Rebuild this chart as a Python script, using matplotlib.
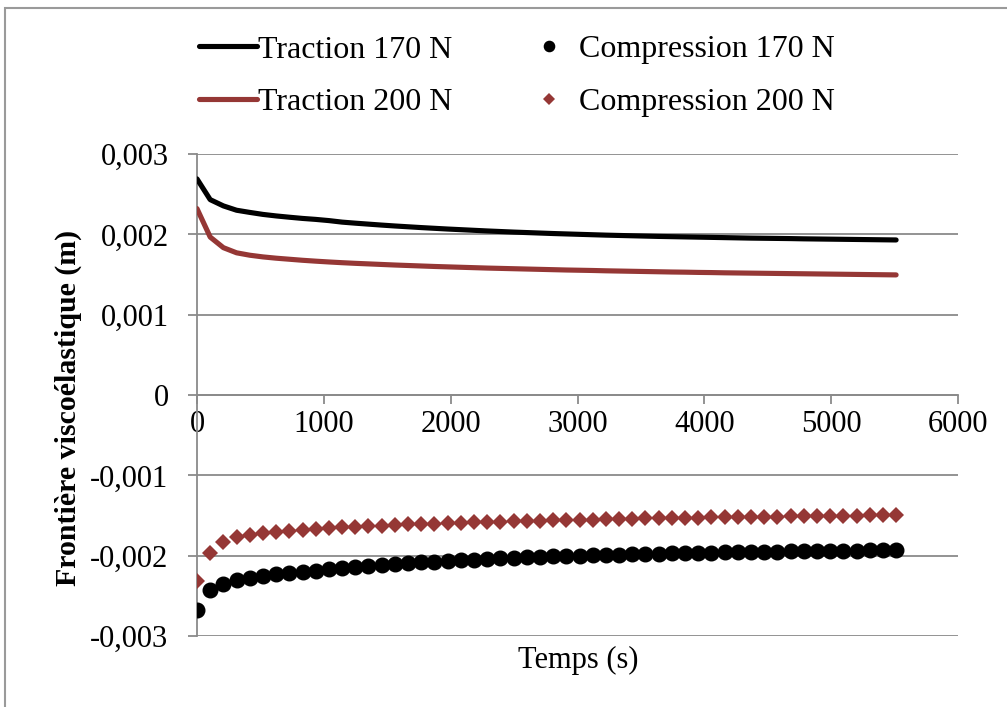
import numpy as np
import matplotlib
matplotlib.use('Agg')
import matplotlib.pyplot as plt
from matplotlib.ticker import FuncFormatter, MultipleLocator
from matplotlib.patches import Rectangle

plt.rcParams['font.family'] = ['Liberation Serif', 'DejaVu Serif']

# Data (time in s, boundary in m)
temps = [0, 104, 208, 312, 416, 520, 624, 728, 832, 936,
         1040, 1144, 1248, 1352, 1456, 1560, 1664, 1768, 1872, 1976,
         2080, 2184, 2288, 2392, 2496, 2600, 2704, 2808, 2912, 3016,
         3120, 3224, 3328, 3432, 3536, 3640, 3744, 3848, 3952, 4056,
         4160, 4264, 4368, 4472, 4576, 4680, 4784, 4888, 4992, 5096,
         5200, 5304, 5408, 5512]

traction_170 = [0.002690, 0.002432, 0.002354, 0.002300, 0.002273, 0.002248, 0.002229, 0.002213, 0.002198, 0.002186,
                0.002171, 0.002152, 0.002139, 0.002127, 0.002115, 0.002104, 0.002094, 0.002084, 0.002075, 0.002066,
                0.002058, 0.002050, 0.002042, 0.002035, 0.002028, 0.002022, 0.002016, 0.002010, 0.002005, 0.002000,
                0.001995, 0.001990, 0.001986, 0.001982, 0.001978, 0.001974, 0.001971, 0.001968, 0.001965, 0.001962,
                0.001959, 0.001956, 0.001953, 0.001951, 0.001949, 0.001947, 0.001944, 0.001942, 0.001940, 0.001938,
                0.001936, 0.001934, 0.001932, 0.001930]

traction_200 = [0.002320, 0.001966, 0.001834, 0.001770, 0.001740, 0.001719, 0.001703, 0.001690, 0.001677, 0.001666,
                0.001656, 0.001647, 0.001639, 0.001632, 0.001625, 0.001618, 0.001612, 0.001606, 0.001600, 0.001595,
                0.001590, 0.001585, 0.001580, 0.001576, 0.001572, 0.001568, 0.001564, 0.001560, 0.001556, 0.001553,
                0.001550, 0.001546, 0.001543, 0.001540, 0.001537, 0.001534, 0.001531, 0.001529, 0.001526, 0.001524,
                0.001521, 0.001519, 0.001517, 0.001515, 0.001513, 0.001511, 0.001509, 0.001507, 0.001505, 0.001503,
                0.001501, 0.001499, 0.001497, 0.001495]

compression_170 = [-0.002681, -0.002432, -0.002354, -0.002300, -0.002273, -0.002248, -0.002229, -0.002213, -0.002198, -0.002186,
                   -0.002171, -0.002152, -0.002139, -0.002127, -0.002115, -0.002104, -0.002094, -0.002084, -0.002075, -0.002066,
                   -0.002058, -0.002050, -0.002042, -0.002035, -0.002028, -0.002022, -0.002016, -0.002010, -0.002005, -0.002000,
                   -0.001995, -0.001990, -0.001986, -0.001982, -0.001978, -0.001974, -0.001971, -0.001968, -0.001965, -0.001962,
                   -0.001959, -0.001956, -0.001953, -0.001951, -0.001949, -0.001947, -0.001944, -0.001942, -0.001940, -0.001938,
                   -0.001936, -0.001934, -0.001932, -0.001930]

compression_200 = [-0.002315, -0.001966, -0.001834, -0.001770, -0.001740, -0.001719, -0.001703, -0.001690, -0.001677, -0.001666,
                   -0.001656, -0.001647, -0.001639, -0.001632, -0.001625, -0.001618, -0.001612, -0.001606, -0.001600, -0.001595,
                   -0.001590, -0.001585, -0.001580, -0.001576, -0.001572, -0.001568, -0.001564, -0.001560, -0.001556, -0.001553,
                   -0.001550, -0.001546, -0.001543, -0.001540, -0.001537, -0.001534, -0.001531, -0.001529, -0.001526, -0.001524,
                   -0.001521, -0.001519, -0.001517, -0.001515, -0.001513, -0.001511, -0.001509, -0.001507, -0.001505, -0.001503,
                   -0.001501, -0.001499, -0.001497, -0.001495]

dark_red = '#953735'
grid_gray = '#8a8a8a'

# Figure
fig = plt.figure(figsize=(10.07, 7.07), dpi=100)
ax = fig.add_axes([197 / 1007, 1 - 636 / 707, (958 - 197) / 1007, (636 - 154) / 707])

# outer frame
fig.patches.append(Rectangle((5 / 1007, -0.1), 1.2, 1 - 8 / 707 + 0.1, transform=fig.transFigure,
                             fill=False, edgecolor='#9a9a9a', linewidth=1.5))

l1, = ax.plot(temps, traction_170, color='black', linewidth=3.7, solid_capstyle='round', zorder=3)
l2, = ax.plot(temps, traction_200, color=dark_red, linewidth=3.7, solid_capstyle='round', zorder=3)
p1, = ax.plot(temps, compression_170, linestyle='none', marker='o', markersize=10.5, color='black', zorder=3)
p2, = ax.plot(temps, compression_200, linestyle='none', marker='D', markersize=8.5, color=dark_red,
              markeredgewidth=0, zorder=3)

ax.set_xlim(0, 6000)
ax.set_ylim(-0.003, 0.003)
ax.xaxis.set_major_locator(MultipleLocator(1000))
ax.yaxis.set_major_locator(MultipleLocator(0.001))


def comma_fmt(v, pos):
    if abs(v) < 1e-12:
        return '0'
    return f'{v:.3f}'.replace('.', ',')


ax.yaxis.set_major_formatter(FuncFormatter(comma_fmt))
ax.grid(axis='y', color=grid_gray, linewidth=1.3, zorder=0)
ax.set_axisbelow(True)

for s in ['top', 'right']:
    ax.spines[s].set_visible(False)
ax.spines['bottom'].set_position(('data', 0))
ax.spines['left'].set_color(grid_gray)
ax.spines['bottom'].set_color(grid_gray)
ax.spines['left'].set_linewidth(1.3)
ax.spines['bottom'].set_linewidth(1.3)

ax.tick_params(axis='both', colors=grid_gray, labelcolor='black', labelsize=22, length=6.5, width=1.3)
ax.tick_params(axis='y', pad=14)
ax.tick_params(axis='x', pad=4)

fig.text(578 / 1007, 1 - 660 / 707, 'Temps (s)', ha='center', va='center', fontsize=22)
fig.text(68 / 1007, 1 - 408 / 707, 'Frontière viscoélastique (m)', ha='center', va='center',
         rotation=90, fontsize=21.5, fontweight='bold')

# legend: column-major order so rows read Traction / Compression
fig.legend([l1, l2, p1, p2],
           ['Traction 170 N', 'Traction 200 N', 'Compression 170 N', 'Compression 200 N'],
           loc='center', bbox_to_anchor=(517 / 1007, 1 - 76 / 707),
           ncol=2, frameon=False, fontsize=23, handlelength=1.8, handletextpad=0.05,
           columnspacing=2.1, labelspacing=0.72, markerscale=0.7)

plt.savefig('out.png', dpi=100)
